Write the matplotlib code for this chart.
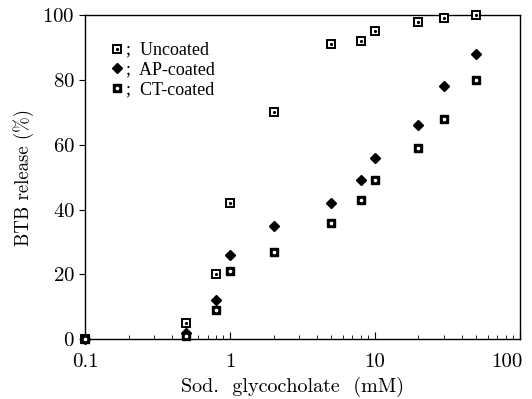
import numpy as np
import matplotlib
matplotlib.use("Agg")
import matplotlib.pyplot as plt
import matplotlib.transforms as mtransforms

# concentrations (mM) and release (%)
conc = [0.1, 0.5, 0.8, 1, 2, 5, 8, 10, 20, 30, 50]
uncoated = [0, 5, 20, 42, 70, 91, 92, 95, 98, 99, 100]
ap_coated = [0, 2, 12, 26, 35, 42, 49, 56, 66, 78, 88]
ct_coated = [0, 1, 9, 21, 27, 36, 43, 49, 59, 68, 80]

xticks = [0.1, 1, 10, 100]
xticklabels = ['0.1', '1', '10', '100']
yticks = [0, 20, 40, 60, 80, 100]

plt.rcParams['font.family'] = 'cmr10'
plt.rcParams['axes.formatter.use_mathtext'] = True

fig = plt.figure(figsize=(5.32, 3.99), dpi=100)
ax = fig.add_axes([0.160, 0.150, 0.817, 0.812])

kw = dict(linestyle='none', clip_on=False, zorder=3)
u_sq, = ax.plot(conc, uncoated, 's', ms=6, mfc='white', mec='black', mew=1.4, **kw)
u_dot, = ax.plot(conc, uncoated, 'o', ms=1.3, color='black', **kw)
ap, = ax.plot(conc, ap_coated, 'D', ms=5, color='black', **kw)
ct_sq, = ax.plot(conc, ct_coated, 's', ms=6, color='black', **kw)
ct_dot, = ax.plot(conc, ct_coated, 'o', ms=1.6, color='white', **kw)

ax.set_xscale('log')
ax.set_xlim(0.1, 100)
ax.set_ylim(0, 100)
ax.set_xticks(xticks)
ax.set_xticklabels(xticklabels)
ax.set_yticks(yticks)
ax.tick_params(axis='x', which='major', direction='in', length=5, labelsize=15, pad=10)
ax.tick_params(axis='x', which='minor', direction='in', length=3)
ax.tick_params(axis='y', direction='out', length=4, labelsize=15)
for s in ax.spines.values():
    s.set_linewidth(1.0)

# last x label sits a bit left of its tick in the original
last = ax.get_xticklabels()[-1]
last.set_transform(last.get_transform() +
                   mtransforms.ScaledTranslation(-0.13, 0, fig.dpi_scale_trans))

ax.set_xlabel('Sod.  glycocholate  (mM)', fontsize=14.5, labelpad=4)
ax.xaxis.label.set_x(0.478)
ax.set_ylabel('BTB release (%)', fontsize=13.5, labelpad=6)

leg = ax.legend([(u_sq, u_dot), ap, (ct_sq, ct_dot)],
                [';  Uncoated', ';  AP-coated', ';  CT-coated'],
                loc='upper left', bbox_to_anchor=(0.04, 0.94), frameon=False,
                handlelength=0.8, handletextpad=0.1, labelspacing=0.15,
                borderaxespad=0, prop={'family': 'Liberation Serif', 'size': 13})

fig.savefig('out.png', dpi=100)
